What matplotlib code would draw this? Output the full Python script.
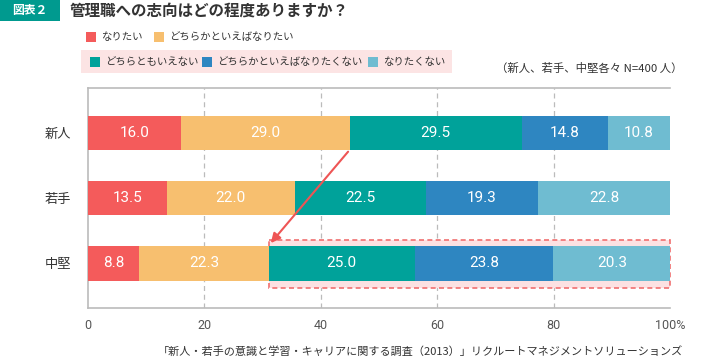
import matplotlib.pyplot as plt
import matplotlib.patches as patches

plt.rcParams['font.family'] = ['Noto Sans CJK JP', 'DejaVu Sans']

groups = ['新人', '若手', '中堅']
series_names = ['なりたい', 'どちらかといえばなりたい', 'どちらともいえない',
                'どちらかといえばなりたくない', 'なりたくない']
values = [
    [16.0, 13.5, 8.8],
    [29.0, 22.0, 22.3],
    [29.5, 22.5, 25.0],
    [14.8, 19.3, 23.8],
    [10.8, 22.8, 20.3],
]
colors = ['#F45B5B', '#F7BF6F', '#00A29A', '#2E86C1', '#6FBCD1']
xticks = [0, 20, 40, 60, 80, 100]
xticklabels = ['0', '20', '40', '60', '80', '100%']

fig = plt.figure(figsize=(7.28, 3.61), dpi=100)
ax = fig.add_axes([88/728, 1-308/361, 582/728, 220/361])

ypos = list(range(len(groups)))
bar_h = 0.52

# highlight box behind 中堅 "negative" side
start = values[0][2] + values[1][2]
ax.add_patch(patches.Rectangle((start, 1.64), 100 - start, 0.74,
                               facecolor='#FCE1E2', edgecolor='#F07070',
                               linestyle=(0, (3, 2)), linewidth=1.2, zorder=1,
                               clip_on=False))

left = [0.0] * len(groups)
for vals, col in zip(values, colors):
    ax.barh(ypos, vals, left=left, height=bar_h, color=col, zorder=3)
    for i, v in enumerate(vals):
        ax.text(left[i] + v / 2, ypos[i], f'{v:.1f}', ha='center', va='center',
                color='white', fontsize=11, family='Roboto', zorder=4)
    left = [l + v for l, v in zip(left, vals)]

# arrow from 新人 boundary to 中堅 boundary
x0 = values[0][0] + values[1][0]
ax.annotate('', xy=(start, 1.72), xytext=(x0, bar_h / 2),
            arrowprops=dict(arrowstyle='-|>', color='#EE5555', lw=1.5,
                            mutation_scale=14), zorder=5)

ax.set_xlim(0, 100)
ax.set_ylim(2.68, -0.68)
ax.set_yticks(ypos)
ax.set_yticklabels(groups, fontsize=9.5, color='#333333')
ax.set_xticks(xticks)
ax.set_xticklabels(xticklabels, fontsize=9, color='#555555', family='Roboto')
ax.tick_params(length=0)
ax.tick_params(axis='x', pad=8)
ax.tick_params(axis='y', pad=12)
for x in xticks[1:-1]:
    ax.axvline(x, color='#BBBBBB', linestyle=(0, (4, 3)), linewidth=0.9, zorder=0)
for s in ['left', 'bottom', 'top']:
    ax.spines[s].set_color('#BBBBBB')
    ax.spines[s].set_linewidth(1.2)
ax.spines['right'].set_visible(False)

# title
fig.patches.append(patches.Rectangle((0, 1-21/361), 60/728, 21/361,
                                     transform=fig.transFigure,
                                     facecolor='#009A8F', edgecolor='none'))
fig.text(30/728, 1-10.5/361, '図表２', ha='center', va='center',
         color='white', fontsize=8.5, weight='bold')
fig.text(70/728, 1-11/361, '管理職への志向はどの程度ありますか？', ha='left',
         va='center', color='#333333', fontsize=11.2, weight='bold')

# legend
fig.patches.append(patches.Rectangle((81/728, 1-73/361), 371/728, 23/361,
                                     transform=fig.transFigure,
                                     facecolor='#FCE4E4', edgecolor='none'))
leg_pos = [(86, 37), (154, 37), (90, 62), (202, 62), (368, 62)]
for (x, y), name, col in zip(leg_pos, series_names, colors):
    fig.patches.append(patches.Rectangle((x/728, 1-(y+5)/361), 10/728, 10/361,
                                         transform=fig.transFigure,
                                         facecolor=col, edgecolor='none'))
    fig.text((x+15)/728, 1-y/361, name, ha='left', va='center',
             fontsize=7.5, color='#333333')

fig.text(683/728, 1-68/361, '（新人、若手、中堅各々 N=400 人）', ha='right',
         va='center', fontsize=8.2, color='#333333')
fig.text(683/728, 1-351/361,
         '「新人・若手の意識と学習・キャリアに関する調査（2013）」リクルートマネジメントソリューションズ',
         ha='right', va='center', fontsize=8, color='#333333')

fig.savefig('out.png', dpi=100)
